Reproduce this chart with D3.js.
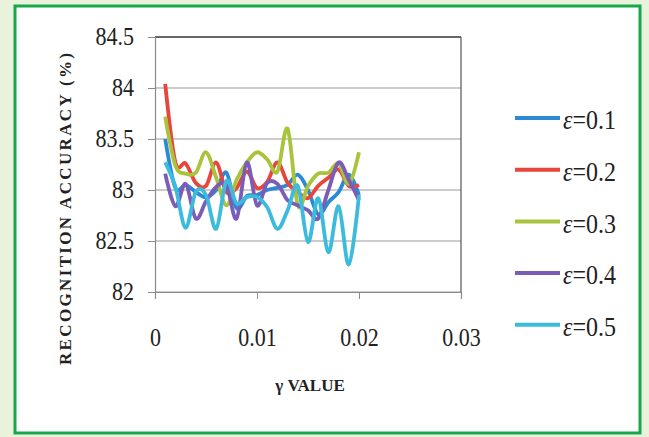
<!DOCTYPE html>
<html>
<head>
<meta charset="utf-8">
<script src="https://cdn.jsdelivr.net/npm/d3@7"></script>
<style>
  html, body { margin: 0; padding: 0; background: #e9f3dc; }
  svg { display: block; }
  svg text { font-family: 'Liberation Serif', 'Times New Roman', Times, serif; }
</style>
</head>
<body>
<svg id="chart" width="649" height="437"></svg>
<script>
// Data
const gammaValues = [0.001, 0.002, 0.003, 0.004, 0.005, 0.006, 0.007, 0.008, 0.009, 0.010,
                     0.011, 0.012, 0.013, 0.014, 0.015, 0.016, 0.017, 0.018, 0.019, 0.020];
const eps01 = [83.5, 83.02, 83.05, 82.98, 82.93, 83.0, 83.17, 82.82, 82.94, 82.95, 83.0, 83.02, 83.05, 83.15, 83.0, 82.76, 82.88, 82.98, 83.15, 82.95];
const eps02 = [84.04, 83.27, 83.26, 83.07, 83.04, 83.27, 82.98, 83.02, 83.18, 83.02, 83.08, 83.27, 83.07, 82.98, 82.92, 83.04, 83.12, 83.2, 83.04, 83.05];
const eps03 = [83.72, 83.24, 83.16, 83.17, 83.37, 83.12, 82.85, 83.1, 83.27, 83.37, 83.3, 83.18, 83.6, 82.85, 83.04, 83.16, 83.17, 83.26, 83.06, 83.37];
const eps04 = [83.16, 82.84, 83.06, 82.72, 82.89, 83.03, 83.05, 82.72, 83.27, 82.85, 83.07, 83.06, 82.9, 82.85, 82.8, 82.72, 83.0, 83.27, 83.1, 82.9];
const eps05 = [83.27, 83.03, 82.63, 82.98, 82.95, 82.62, 83.09, 82.87, 82.93, 82.93, 82.83, 82.62, 82.8, 83.04, 82.49, 82.92, 82.39, 82.84, 82.27, 82.95];
const seriesNames = ['0.1', '0.2', '0.3', '0.4', '0.5'];
const seriesColors = ['#2b8ad6', '#e8453c', '#a9c43c', '#7b5cb6', '#3cbbdc'];
const xTicks = [0, 0.01, 0.02, 0.03];
const yTicks = [82, 82.5, 83, 83.5, 84, 84.5];

const seriesData = [eps01, eps02, eps03, eps04, eps05];

const svg = d3.select('#chart');

// Outer frame
svg.append('rect')
    .attr('x', 15).attr('y', 6)
    .attr('width', 625).attr('height', 427)
    .attr('fill', '#ffffff')
    .attr('stroke', '#17a84c')
    .attr('stroke-width', 3);

const plot = { left: 155, right: 461, top: 37, bottom: 292 };

const x = d3.scaleLinear().domain([0, 0.03]).range([plot.left, plot.right]);
const y = d3.scaleLinear().domain([82, 84.5]).range([plot.bottom, plot.top]);

// Gridlines
svg.append('g')
    .selectAll('line')
    .data(yTicks)
    .enter()
    .append('line')
        .attr('x1', plot.left)
        .attr('x2', plot.right)
        .attr('y1', d => y(d))
        .attr('y2', d => y(d))
        .attr('stroke', d => d === 84.5 ? '#333' : '#9a9a9a')
        .attr('stroke-width', d => d === 84.5 ? 1.5 : 1.2);

// Right border
svg.append('line')
    .attr('x1', plot.right).attr('x2', plot.right)
    .attr('y1', plot.top).attr('y2', plot.bottom)
    .attr('stroke', '#555').attr('stroke-width', 1.2);

// Y axis
const yAxis = svg.append('g')
    .attr('transform', `translate(${plot.left},0)`)
    .call(d3.axisLeft(y).tickValues(yTicks).tickSize(7).tickPadding(14)
        .tickFormat(d => d3.format('')(d)));
yAxis.attr('font-family', null);
yAxis.select('.domain').attr('stroke', '#8a8a8a').attr('stroke-width', 1.2);
yAxis.selectAll('.tick line').attr('stroke', '#8a8a8a');
yAxis.selectAll('text')
    .attr('font-size', 22)
    .attr('dy', '0.28em')
    .attr('transform', 'scale(1,1.15)')
    .attr('fill', '#222');

// X axis
const xAxis = svg.append('g')
    .attr('transform', `translate(0,${plot.bottom})`)
    .call(d3.axisBottom(x).tickValues(xTicks).tickSize(7).tickPadding(26)
        .tickFormat(d => d === 0 ? '0' : d3.format('.2f')(d)));
xAxis.attr('font-family', null);
xAxis.select('.domain').attr('stroke', '#8a8a8a').attr('stroke-width', 1.2);
xAxis.selectAll('.tick line').attr('stroke', '#8a8a8a');
xAxis.selectAll('text')
    .attr('font-size', 22)
    .attr('transform', 'scale(1,1.12)')
    .attr('fill', '#222');

// Axis titles
svg.append('text')
    .attr('x', 310).attr('y', 391)
    .attr('text-anchor', 'middle')
    .attr('font-weight', 'bold')
    .attr('font-size', 17)
    .attr('fill', '#222')
    .text('γ VALUE');

svg.append('text')
    .attr('transform', 'translate(71,209) rotate(-90)')
    .attr('text-anchor', 'middle')
    .attr('font-weight', 'bold')
    .attr('font-size', 17)
    .attr('fill', '#222')
    .attr('textLength', 312)
    .attr('lengthAdjust', 'spacing')
    .text('RECOGNITION ACCURACY (%)');

// Lines
const line = d3.line()
    .x((d, i) => x(gammaValues[i]))
    .y(d => y(d))
    .curve(d3.curveCardinal.tension(0));

svg.append('g')
    .selectAll('path')
    .data(seriesData)
    .enter()
    .append('path')
        .attr('d', line)
        .attr('fill', 'none')
        .attr('stroke', (d, i) => seriesColors[i])
        .attr('stroke-width', 3.8)
        .attr('stroke-linejoin', 'round');

// Legend
const legend = svg.append('g')
    .selectAll('g')
    .data(seriesNames)
    .enter()
    .append('g')
        .attr('transform', (d, i) => `translate(515,${118 + i * 51.7})`);

legend.append('line')
    .attr('x1', 0).attr('x2', 45)
    .attr('stroke', (d, i) => seriesColors[i])
    .attr('stroke-width', 4);

const legendText = legend.append('text')
    .attr('x', 48).attr('y', 10)
    .attr('font-size', 24)
    .attr('transform', 'scale(1,1.12)')
    .attr('fill', '#222');
legendText.append('tspan').attr('font-style', 'italic').text('ε');
legendText.append('tspan').text(d => '=' + d);
</script>
</body>
</html>
